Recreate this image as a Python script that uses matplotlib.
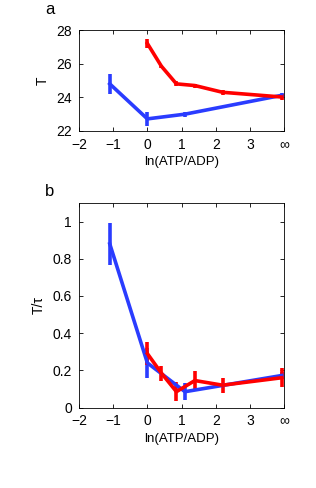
import numpy as np
import matplotlib
matplotlib.use('Agg')
import matplotlib.pyplot as plt

plt.rcParams['font.family'] = ['Liberation Sans', 'DejaVu Sans']

# x positions: ln(ATP/ADP); 4 stands for infinity
blue_x = [-1.1, 0.0, 1.1, 3.93]
red_x = [0.0, 0.41, 0.85, 1.39, 2.2, 3.93]

# panel a: T
blue_T = [24.8, 22.72, 23.0, 24.12]
blue_T_err = [0.6, 0.4, 0.15, 0.15]
red_T = [27.2, 25.85, 24.8, 24.7, 24.3, 24.02]
red_T_err = [0.25, 0.1, 0.15, 0.12, 0.15, 0.2]

# panel b: T/tau
blue_R = [0.88, 0.24, 0.085, 0.172]
blue_R_err = [0.115, 0.08, 0.045, 0.02]
red_R = [0.29, 0.185, 0.085, 0.145, 0.12, 0.16]
red_R_err = [0.06, 0.04, 0.05, 0.05, 0.04, 0.05]

x_ticks = [-2, -1, 0, 1, 2, 3, 4]
x_tick_labels = ['\u22122', '\u22121', '0', '1', '2', '3', '\u221e']

blue = '#2a3cff'
red = '#ff0000'

fig = plt.figure(figsize = (3.16, 4.88), dpi = 100)
ax_a = fig.add_axes([0.25, 1 - 131 / 488, 0.649, 101 / 488])
ax_b = fig.add_axes([0.25, 1 - 407.5 / 488, 0.649, 204.5 / 488])

def draw(ax, y_blue, e_blue, y_red, e_red):
    ax.errorbar(blue_x, y_blue, yerr = e_blue, color = blue, lw = 2.6, elinewidth = 2.6, capsize = 0)
    ax.errorbar(red_x, y_red, yerr = e_red, color = red, lw = 2.6, elinewidth = 2.6, capsize = 0)
    ax.set_xlim(-2, 4)
    ax.set_xticks(x_ticks)
    ax.set_xticklabels(x_tick_labels)
    ax.tick_params(direction = 'in', top = True, right = True, labelsize = 10,
                   length = 3, width = 0.6, pad = 5)
    for s in ax.spines.values():
        s.set_linewidth(0.6)
    ax.set_xlabel('ln(ATP/ADP)', fontsize = 9.5, labelpad = 3)

draw(ax_a, blue_T, blue_T_err, red_T, red_T_err)
ax_a.set_ylim(22, 28)
ax_a.set_yticks([22, 24, 26, 28])
ax_a.set_ylabel('T', fontsize = 10, labelpad = 5)

draw(ax_b, blue_R, blue_R_err, red_R, red_R_err)
ax_b.set_ylim(0, 1.1)
ax_b.set_yticks([0, 0.2, 0.4, 0.6, 0.8, 1.0])
ax_b.set_yticklabels(['0', '0.2', '0.4', '0.6', '0.8', '1'])
ax_b.set_ylabel('T/\u03c4', fontsize = 10, labelpad = 5)

fig.text(50 / 316, 1 - 10 / 488, 'a', fontsize = 12, ha = 'center', va = 'center')
fig.text(50 / 316, 1 - 191 / 488, 'b', fontsize = 12, ha = 'center', va = 'center')

fig.savefig('out.png', dpi = 100)
